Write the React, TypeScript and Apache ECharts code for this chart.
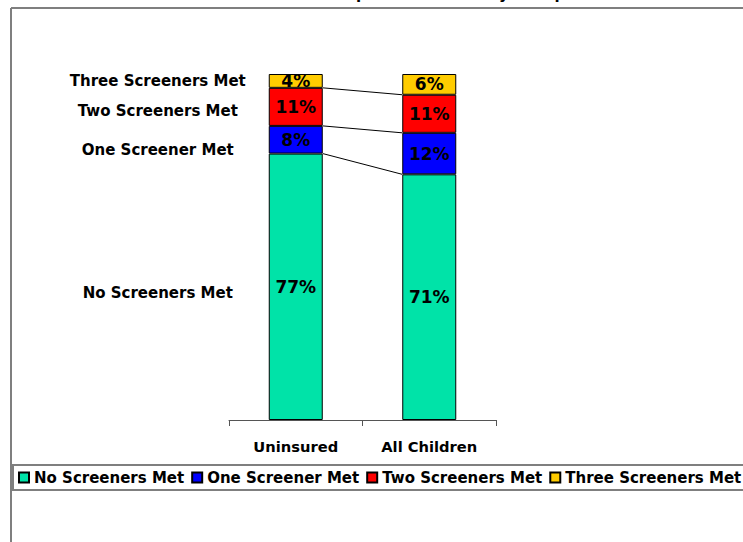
import React, { useEffect, useRef } from "react";
import * as echarts from "echarts";

const categories = ["Uninsured", "All Children"];
const seriesNames = ["No Screeners Met", "One Screener Met", "Two Screeners Met", "Three Screeners Met"];
const uninsured = [77, 8, 11, 4];
const allChildren = [71, 12, 11, 6];
const titleText = "Comparison of Kids by Group";

const colors = ["#00E3A8", "#0000FF", "#FF0000", "#FFCC00"];
const labelNudges = [6, 10, 4, 0];
const BAR_WIDTH = 54;
const FONT = '"DejaVu Sans", Verdana, sans-serif';

const sum = (a: number[], n: number) => a.slice(0, n).reduce((s, v) => s + v, 0);

export default function App() {
  const ref = useRef<HTMLDivElement>(null);
  useEffect(() => {
    if (!ref.current) return;
    const chart = echarts.init(ref.current, null, { renderer: "svg" });
    const barSeries = seriesNames.map((name, k) => ({
      name,
      type: "bar",
      stack: "total",
      barWidth: BAR_WIDTH,
      data: [uninsured[k], allChildren[k]],
      itemStyle: { color: colors[k], borderColor: "#000", borderWidth: 1 },
      label: {
        show: true,
        position: "inside",
        formatter: "{c}%",
        color: "#000",
        fontWeight: "bold",
        fontSize: 17,
        fontFamily: FONT,
      },
    }));
    const n = seriesNames.length;
    const custom = {
      name: "connectors",
      type: "custom",
      clip: false,
      silent: true,
      z: 5,
      data: seriesNames.map((_, k) => [0, k]),
      encode: { x: 0, y: 1 },
      renderItem: (params: any, api: any) => {
        const k = api.value(1);
        const cu = sum(uninsured, k + 1);
        const cu0 = cu - uninsured[k];
        const ca = sum(allChildren, k + 1);
        const pU = api.coord([0, cu]);
        const pU0 = api.coord([0, cu0]);
        const pA = api.coord([1, ca]);
        const half = BAR_WIDTH / 2;
        const children: any[] = [];
        if (k < n - 1) {
          children.push({
            type: "line",
            shape: { x1: pU[0] + half, y1: pU[1], x2: pA[0] - half, y2: pA[1] },
            style: { stroke: "#000", lineWidth: 1 },
          });
        }
        children.push({
          type: "text",
          x: pU[0] - half - 111,
          y: (pU[1] + pU0[1]) / 2 + labelNudges[k],
          style: {
            text: seriesNames[k],
            align: "center",
            textAlign: "center",
            verticalAlign: "middle",
            textVerticalAlign: "middle",
            fill: "#000",
            font: `bold 15px ${FONT}`,
          },
        });
        return { type: "group", children };
      },
    };
    chart.setOption({
      animation: false,
      backgroundColor: "#fff",
      textStyle: { fontFamily: FONT },
      grid: { left: 229, top: 74, width: 267, height: 346 },
      xAxis: {
        type: "category",
        data: categories,
        axisLine: { lineStyle: { color: "#555", width: 1 } },
        axisTick: { show: true, length: 6, lineStyle: { color: "#555" } },
        axisLabel: { color: "#000", fontWeight: "bold", fontSize: 14.7, margin: 19, fontFamily: FONT },
      },
      yAxis: { type: "value", min: 0, max: 100, show: false },
      legend: {
        data: seriesNames,
        left: 18,
        top: 470,
        padding: 0,
        itemGap: 7,
        itemWidth: 10,
        itemHeight: 10,
        icon: "rect",
        textStyle: { color: "#000", fontWeight: "bold", fontSize: 15, fontFamily: FONT },
      },
      graphic: [
        { type: "line", shape: { x1: 11, y1: 8, x2: 743, y2: 8 }, style: { stroke: "#7f7f7f", lineWidth: 2 } },
        { type: "line", shape: { x1: 11, y1: 8, x2: 11, y2: 542 }, style: { stroke: "#7f7f7f", lineWidth: 2 } },
        {
          type: "rect",
          shape: { x: 13, y: 465, width: 740, height: 25 },
          style: { fill: "none", stroke: "#7f7f7f", lineWidth: 2 },
        },
        {
          type: "text",
          x: 319,
          y: -6,
          style: {
            text: titleText,
            fill: "#000",
            font: `bold 15px ${FONT}`,
            verticalAlign: "middle",
            textVerticalAlign: "middle",
          },
        },
      ],
      series: [...barSeries, custom],
    });
    return () => chart.dispose();
  }, []);
  return <div ref={ref} style={{ position: "fixed", left: 0, top: 0, width: 743, height: 542 }} />;
}
